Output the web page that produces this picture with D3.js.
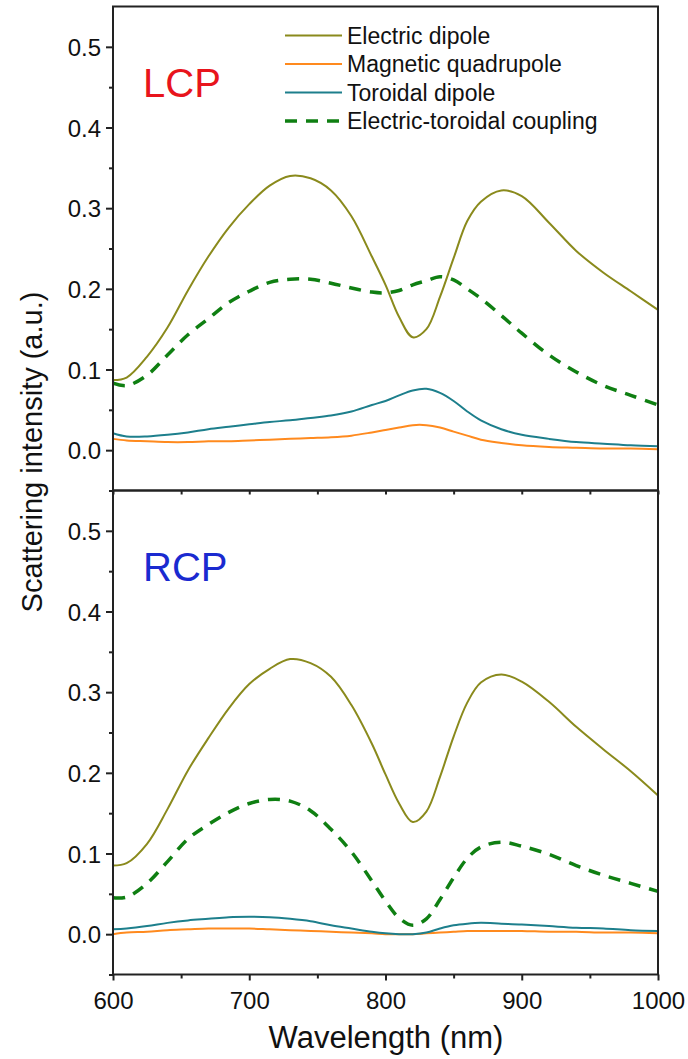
<!DOCTYPE html>
<html>
<head>
<meta charset="utf-8">
<script src="https://cdn.jsdelivr.net/npm/d3@7"></script>
<style>
  body { margin: 0; background: #fff; }
  svg text { font-family: "Liberation Sans", Arial, sans-serif; }
</style>
</head>
<body>
<div id="chart"></div>
<script>
"use strict";

// Wavelength grid (nm)
const wavelengths = [600, 610, 625, 640, 655, 670, 685, 700, 715, 730, 745, 760, 775, 790, 800,
                     810, 820, 830, 840, 850, 860, 870, 885, 900, 920, 940, 960, 980, 1000];

// LCP panel
const lcpElectric = [0.087, 0.090, 0.116, 0.152, 0.198, 0.240, 0.276, 0.305, 0.328, 0.340, 0.337, 0.322, 0.290, 0.240, 0.205,
                     0.165, 0.140, 0.150, 0.190, 0.238, 0.284, 0.308, 0.322, 0.315, 0.282, 0.247, 0.220, 0.197, 0.174];
const lcpMagnetic = [0.014, 0.012, 0.011, 0.010, 0.010, 0.011, 0.011, 0.012, 0.013, 0.014, 0.015, 0.016, 0.018, 0.022, 0.025,
                     0.028, 0.031, 0.031, 0.028, 0.023, 0.018, 0.013, 0.009, 0.006, 0.004, 0.003, 0.002, 0.002, 0.001];
const lcpToroidal = [0.021, 0.017, 0.017, 0.019, 0.022, 0.026, 0.029, 0.032, 0.035, 0.037, 0.040, 0.043, 0.048, 0.056, 0.061,
                     0.068, 0.074, 0.076, 0.071, 0.061, 0.048, 0.037, 0.026, 0.019, 0.014, 0.010, 0.008, 0.006, 0.005];
const lcpCoupling = [0.083, 0.080, 0.093, 0.118, 0.143, 0.163, 0.183, 0.197, 0.208, 0.212, 0.212, 0.207, 0.201, 0.196, 0.195,
                     0.198, 0.205, 0.210, 0.215, 0.211, 0.200, 0.188, 0.167, 0.145, 0.118, 0.097, 0.080, 0.068, 0.056];

// RCP panel
const rcpElectric = [0.085, 0.088, 0.112, 0.155, 0.203, 0.243, 0.280, 0.310, 0.329, 0.341, 0.336, 0.319, 0.284, 0.236, 0.198,
                     0.162, 0.139, 0.152, 0.195, 0.245, 0.287, 0.312, 0.322, 0.313, 0.288, 0.257, 0.229, 0.202, 0.172];
const rcpMagnetic = [0.000, 0.002, 0.003, 0.005, 0.006, 0.007, 0.007, 0.007, 0.006, 0.005, 0.004, 0.003, 0.002, 0.001, 0.000,
                     0.000, 0.000, 0.001, 0.002, 0.003, 0.004, 0.004, 0.004, 0.004, 0.003, 0.003, 0.002, 0.002, 0.001];
const rcpToroidal = [0.006, 0.007, 0.010, 0.014, 0.017, 0.019, 0.021, 0.0215, 0.021, 0.019, 0.016, 0.011, 0.007, 0.003, 0.001,
                     0.000, 0.000, 0.002, 0.007, 0.011, 0.013, 0.014, 0.013, 0.012, 0.010, 0.008, 0.007, 0.005, 0.004];
const rcpCoupling = [0.045, 0.046, 0.063, 0.090, 0.118, 0.136, 0.151, 0.162, 0.167, 0.165, 0.153, 0.130, 0.102, 0.066, 0.041,
                     0.020, 0.011, 0.019, 0.043, 0.070, 0.094, 0.108, 0.114, 0.109, 0.099, 0.085, 0.073, 0.063, 0.053];

// Legend / series names
const seriesNames = ["Electric dipole", "Magnetic quadrupole", "Toroidal dipole", "Electric-toroidal coupling"];
const seriesColors = ["#8a8a1c", "#ff8a1e", "#1d7f8c", "#0f7f12"];

// Axis ticks
const xTicks = [600, 700, 800, 900, 1000];
const xMinorTicks = [650, 750, 850, 950];
const yTicks = [0.0, 0.1, 0.2, 0.3, 0.4, 0.5];
const yMinorTicks = [-0.05, 0.05, 0.15, 0.25, 0.35, 0.45];

// Canvas
const width = 688, height = 1059;
const left = 113, right = 658;
const panelTop = 6.5, panelHeight = 484;

let svg = d3.select("#chart").append("svg")
  .attr("width", width)
  .attr("height", height);

let x = d3.scaleLinear().domain([600, 1000]).range([left, right]);

function drawPanel(top, series, label, labelColor, showLegend, showXLabels){
  let y = d3.scaleLinear().domain([-0.05, 0.55]).range([top + panelHeight, top]);
  let g = svg.append("g");

  // Curves
  let line = d3.line()
    .x((d, i) => x(wavelengths[i]))
    .y(d => y(d))
    .curve(d3.curveCatmullRom.alpha(0.5));

  series.forEach(function(vals, k){
    let p = g.append("path")
      .datum(vals)
      .attr("d", line)
      .attr("fill", "none")
      .attr("stroke", seriesColors[k])
      .attr("stroke-width", k === 3 ? 3.5 : 2);
    if (k === 3) p.attr("stroke-dasharray", "12,9");
  });

  // Frame
  g.append("rect")
    .attr("x", left)
    .attr("y", top)
    .attr("width", right - left)
    .attr("height", panelHeight)
    .attr("fill", "none")
    .attr("stroke", "#222")
    .attr("stroke-width", 2);

  // Left axis: major ticks with labels, then minor ticks
  g.append("g")
    .attr("transform", "translate(" + left + ",0)")
    .call(d3.axisLeft(y).tickValues(yTicks).tickFormat(d3.format(".1f")).tickSize(7).tickSizeOuter(0))
    .call(a => a.select(".domain").remove())
    .call(a => a.selectAll("line").attr("stroke", "#222").attr("stroke-width", 2))
    .call(a => a.selectAll("text")
      .attr("font-family", "Liberation Sans, Arial, sans-serif")
      .attr("font-size", 24)
      .attr("fill", "#111")
      .attr("dx", -2)
      .attr("dy", "0.36em"));

  g.append("g")
    .attr("transform", "translate(" + left + ",0)")
    .call(d3.axisLeft(y).tickValues(yMinorTicks).tickFormat("").tickSize(4).tickSizeOuter(0))
    .call(a => a.select(".domain").remove())
    .call(a => a.selectAll("line").attr("stroke", "#222").attr("stroke-width", 2));

  // Bottom axis ticks
  let bottom = top + panelHeight;
  g.append("g")
    .attr("transform", "translate(0," + bottom + ")")
    .call(d3.axisBottom(x).tickValues(xTicks).tickSize(showXLabels ? 6 : 4).tickSizeOuter(0)
      .tickFormat(showXLabels ? d3.format("d") : ""))
    .call(a => a.select(".domain").remove())
    .call(a => a.selectAll("line").attr("stroke", "#222").attr("stroke-width", 2))
    .call(a => a.selectAll("text")
      .attr("font-family", "Liberation Sans, Arial, sans-serif")
      .attr("font-size", 24)
      .attr("fill", "#111")
      .attr("dy", "1.05em"));

  g.append("g")
    .attr("transform", "translate(0," + bottom + ")")
    .call(d3.axisBottom(x).tickValues(xMinorTicks).tickFormat("").tickSize(4).tickSizeOuter(0))
    .call(a => a.select(".domain").remove())
    .call(a => a.selectAll("line").attr("stroke", "#222").attr("stroke-width", 2));

  // Panel label
  g.append("text")
    .attr("x", left + 30)
    .attr("y", top + 90)
    .text(label)
    .attr("font-size", 40)
    .attr("fill", labelColor);

  // Legend
  if (showLegend) {
    let lg = g.append("g");
    seriesNames.forEach(function(name, k){
      let ly = top + 29 + k * 28.5;
      lg.append("line")
        .attr("x1", 285)
        .attr("x2", 342)
        .attr("y1", ly)
        .attr("y2", ly)
        .attr("stroke", seriesColors[k])
        .attr("stroke-width", k === 3 ? 3.5 : 2)
        .attr("stroke-dasharray", k === 3 ? "12,9" : null);
      lg.append("text")
        .attr("x", 347)
        .attr("y", ly)
        .attr("dy", "0.36em")
        .text(name)
        .attr("font-size", 23)
        .attr("fill", "#111");
    });
  }
}

drawPanel(panelTop, [lcpElectric, lcpMagnetic, lcpToroidal, lcpCoupling], "LCP", "#e8141c", true, false);
drawPanel(panelTop + panelHeight, [rcpElectric, rcpMagnetic, rcpToroidal, rcpCoupling], "RCP", "#1a2ad0", false, true);

// Axis titles
svg.append("text")
  .attr("x", 386)
  .attr("y", 1048)
  .attr("text-anchor", "middle")
  .text("Wavelength (nm)")
  .attr("font-size", 31)
  .attr("fill", "#111");

svg.append("text")
  .attr("transform", "translate(42,452) rotate(-90)")
  .attr("text-anchor", "middle")
  .text("Scattering intensity (a.u.)")
  .attr("font-size", 29)
  .attr("fill", "#111");
</script>
</body>
</html>
